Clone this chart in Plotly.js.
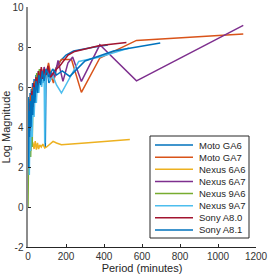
<!DOCTYPE html>
<html><head><meta charset="utf-8">
<script src="https://cdn.plot.ly/plotly-3.0.1.min.js"></script>
<style>html,body{margin:0;padding:0;background:#fff;}#chart{width:272px;height:277px;}</style>
</head><body><div id="chart"></div>
<script>
const seriesNames = ["Moto GA6","Moto GA7","Nexus 6A6","Nexus 6A7","Nexus 9A6","Nexus 9A7","Sony A8.0","Sony A8.1"];
const seriesColors = ["#0072BD","#D95319","#EDB120","#7E2F8E","#77AC30","#4DBEEE","#A2142F","#0072BD"];

const motoGA6_x = [1,3,5,8,11,14,17,20,24,28,32,37,42,48,55,62,70,78,85,88,91,95,100,110,125,145,170,200,240,290,350,420];
const motoGA6_y = [5.5,3.2,5.4,3.8,5.7,4.2,5.9,4.6,6.2,5.0,6.4,5.6,6.6,6.0,6.8,6.3,6.9,6.2,6.7,6.5,3.0,6.6,6.9,6.2,6.5,6.9,7.3,7.6,7.8,7.9,8.0,8.1];

const motoGA7_x = [2,5,9,13,18,23,28,34,40,47,55,63,72,82,95,108,120,134,150,176,229,281,378,571,1133];
const motoGA7_y = [4.2,5.0,4.5,5.6,5.0,6.0,5.4,6.3,5.8,6.5,6.1,6.8,6.3,6.9,6.5,7.2,6.6,6.2,7.0,7.37,7.37,5.73,7.45,8.33,8.65];

const nexus6A6_x = [5,10,15,20,26,32,38,44,50,56,62,70,78,88,98,110,132,150,176,300,420,536];
const nexus6A6_y = [2.6,3.2,2.8,3.3,3.2,2.9,3.3,2.87,3.2,2.9,3.1,3.0,3.15,2.95,3.0,3.1,3.28,3.2,3.11,3.2,3.28,3.37];

const nexus6A7_x = [2,6,10,15,20,26,32,38,45,52,60,68,76,85,95,105,115,125,140,158,184,210,235,281,378,571,1133];
const nexus6A7_y = [3.5,4.5,4.0,5.2,4.8,5.8,5.3,6.2,5.9,6.5,6.1,6.9,6.4,7.0,6.6,6.9,6.4,6.7,6.5,7.33,6.28,7.2,7.5,6.28,8.11,6.31,9.08];

const nexus9A6_x = [0,1,3,6,10,14,18,22,26,30,35,40,46,52,60];
const nexus9A6_y = [0,1.5,2.6,2.2,3.8,2.5,4.5,3.0,5.5,4.8,6.2,5.8,6.7,6.3,6.9];

const nexus9A7_x = [1,4,7,10,14,18,22,27,32,38,44,50,57,64,72,80,85,88,92,100,115,130,150,176,267,378,532];
const nexus9A7_y = [4.5,2.5,1.6,4.0,2.8,5.0,3.5,5.6,4.5,6.0,5.2,6.3,5.7,6.5,6.0,6.7,6.5,3.2,6.4,6.8,6.3,6.6,6.1,5.7,7.28,7.5,7.95];

const sonyA80_x = [2,5,8,12,16,20,25,30,36,42,48,55,62,70,78,86,95,105,120,140,167,211,246,378,518];
const sonyA80_y = [4.3,4.6,3.8,5.2,4.5,5.8,5.0,6.2,5.5,6.5,5.9,6.8,6.2,7.0,6.4,6.9,6.6,7.05,6.5,6.8,7.05,7.6,7.78,8.07,8.23];

const sonyA81_x = [1,3,5,8,12,16,20,25,30,36,42,50,58,66,75,85,95,110,130,150,180,220,300,450,696];
const sonyA81_y = [5.0,2.0,4.8,3.5,5.3,4.0,5.6,4.6,6.0,5.2,6.3,5.7,6.6,6.1,6.8,6.3,6.9,6.5,6.9,6.6,6.8,6.53,7.3,7.8,8.2];

const xTicks = [0,200,400,600,800,1000,1200];
const yTicks = [-2,0,2,4,6,8,10];

const xs = [motoGA6_x,motoGA7_x,nexus6A6_x,nexus6A7_x,nexus9A6_x,nexus9A7_x,sonyA80_x,sonyA81_x];
const ys = [motoGA6_y,motoGA7_y,nexus6A6_y,nexus6A7_y,nexus9A6_y,nexus9A7_y,sonyA80_y,sonyA81_y];

const traces = seriesNames.map((n,i)=>({
  type:'scatter', mode:'lines', name:n, x:xs[i], y:ys[i],
  line:{color:seriesColors[i], width:1.5}, showlegend:false
}));

// Legend drawn manually (pixel layout converted to paper coords)
const W=272,H=277,ml=28,mr=16,mt=7,mb=30;
const pw=W-ml-mr, ph=H-mt-mb;
const px=v=>(v-ml)/pw, py=v=>(H-mb-v)/ph;
const shapes=[{type:'rect',xref:'paper',yref:'paper',x0:px(150),x1:px(249),y0:py(136),y1:py(238),
  line:{color:'#262626',width:1},fillcolor:'#fff',layer:'above'}];
const annotations=[];
seriesNames.forEach((n,i)=>{
  const yy=145+i*12.14;
  shapes.push({type:'line',xref:'paper',yref:'paper',x0:px(155),x1:px(193),y0:py(yy),y1:py(yy),
    line:{color:seriesColors[i],width:1.5},layer:'above'});
  annotations.push({xref:'paper',yref:'paper',x:px(197),y:py(yy),text:n,showarrow:false,
    xanchor:'left',yanchor:'middle',font:{size:9.5,color:'#262626'}});
});

const layout={
  width:W,height:H,margin:{l:ml,r:mr,t:mt,b:mb},
  paper_bgcolor:'#fff',plot_bgcolor:'#fff',
  font:{family:'Liberation Sans, Arial, sans-serif',size:10,color:'#333'},
  showlegend:false,hovermode:false,
  xaxis:{range:[0,1200],tickvals:xTicks,ticktext:xTicks.map(String),ticks:'inside',ticklen:3,
    tickcolor:'#262626',showline:true,linecolor:'#262626',linewidth:1,showgrid:false,zeroline:false,
    tickfont:{size:10,color:'#333'},
    title:{text:'Period (minutes)',font:{size:11,color:'#262626'},standoff:2}},
  yaxis:{range:[-2,10],tickvals:yTicks,ticktext:yTicks.map(String),ticks:'inside',ticklen:3,
    tickcolor:'#262626',showline:true,linecolor:'#8c8c8c',linewidth:2.5,showgrid:false,zeroline:false,
    tickfont:{size:10,color:'#333'},
    title:{text:'Log Magnitude',font:{size:11,color:'#262626'},standoff:2}},
  shapes:shapes,annotations:annotations
};
Plotly.newPlot('chart',traces,layout,{displayModeBar:false,staticPlot:true});
</script></body></html>
